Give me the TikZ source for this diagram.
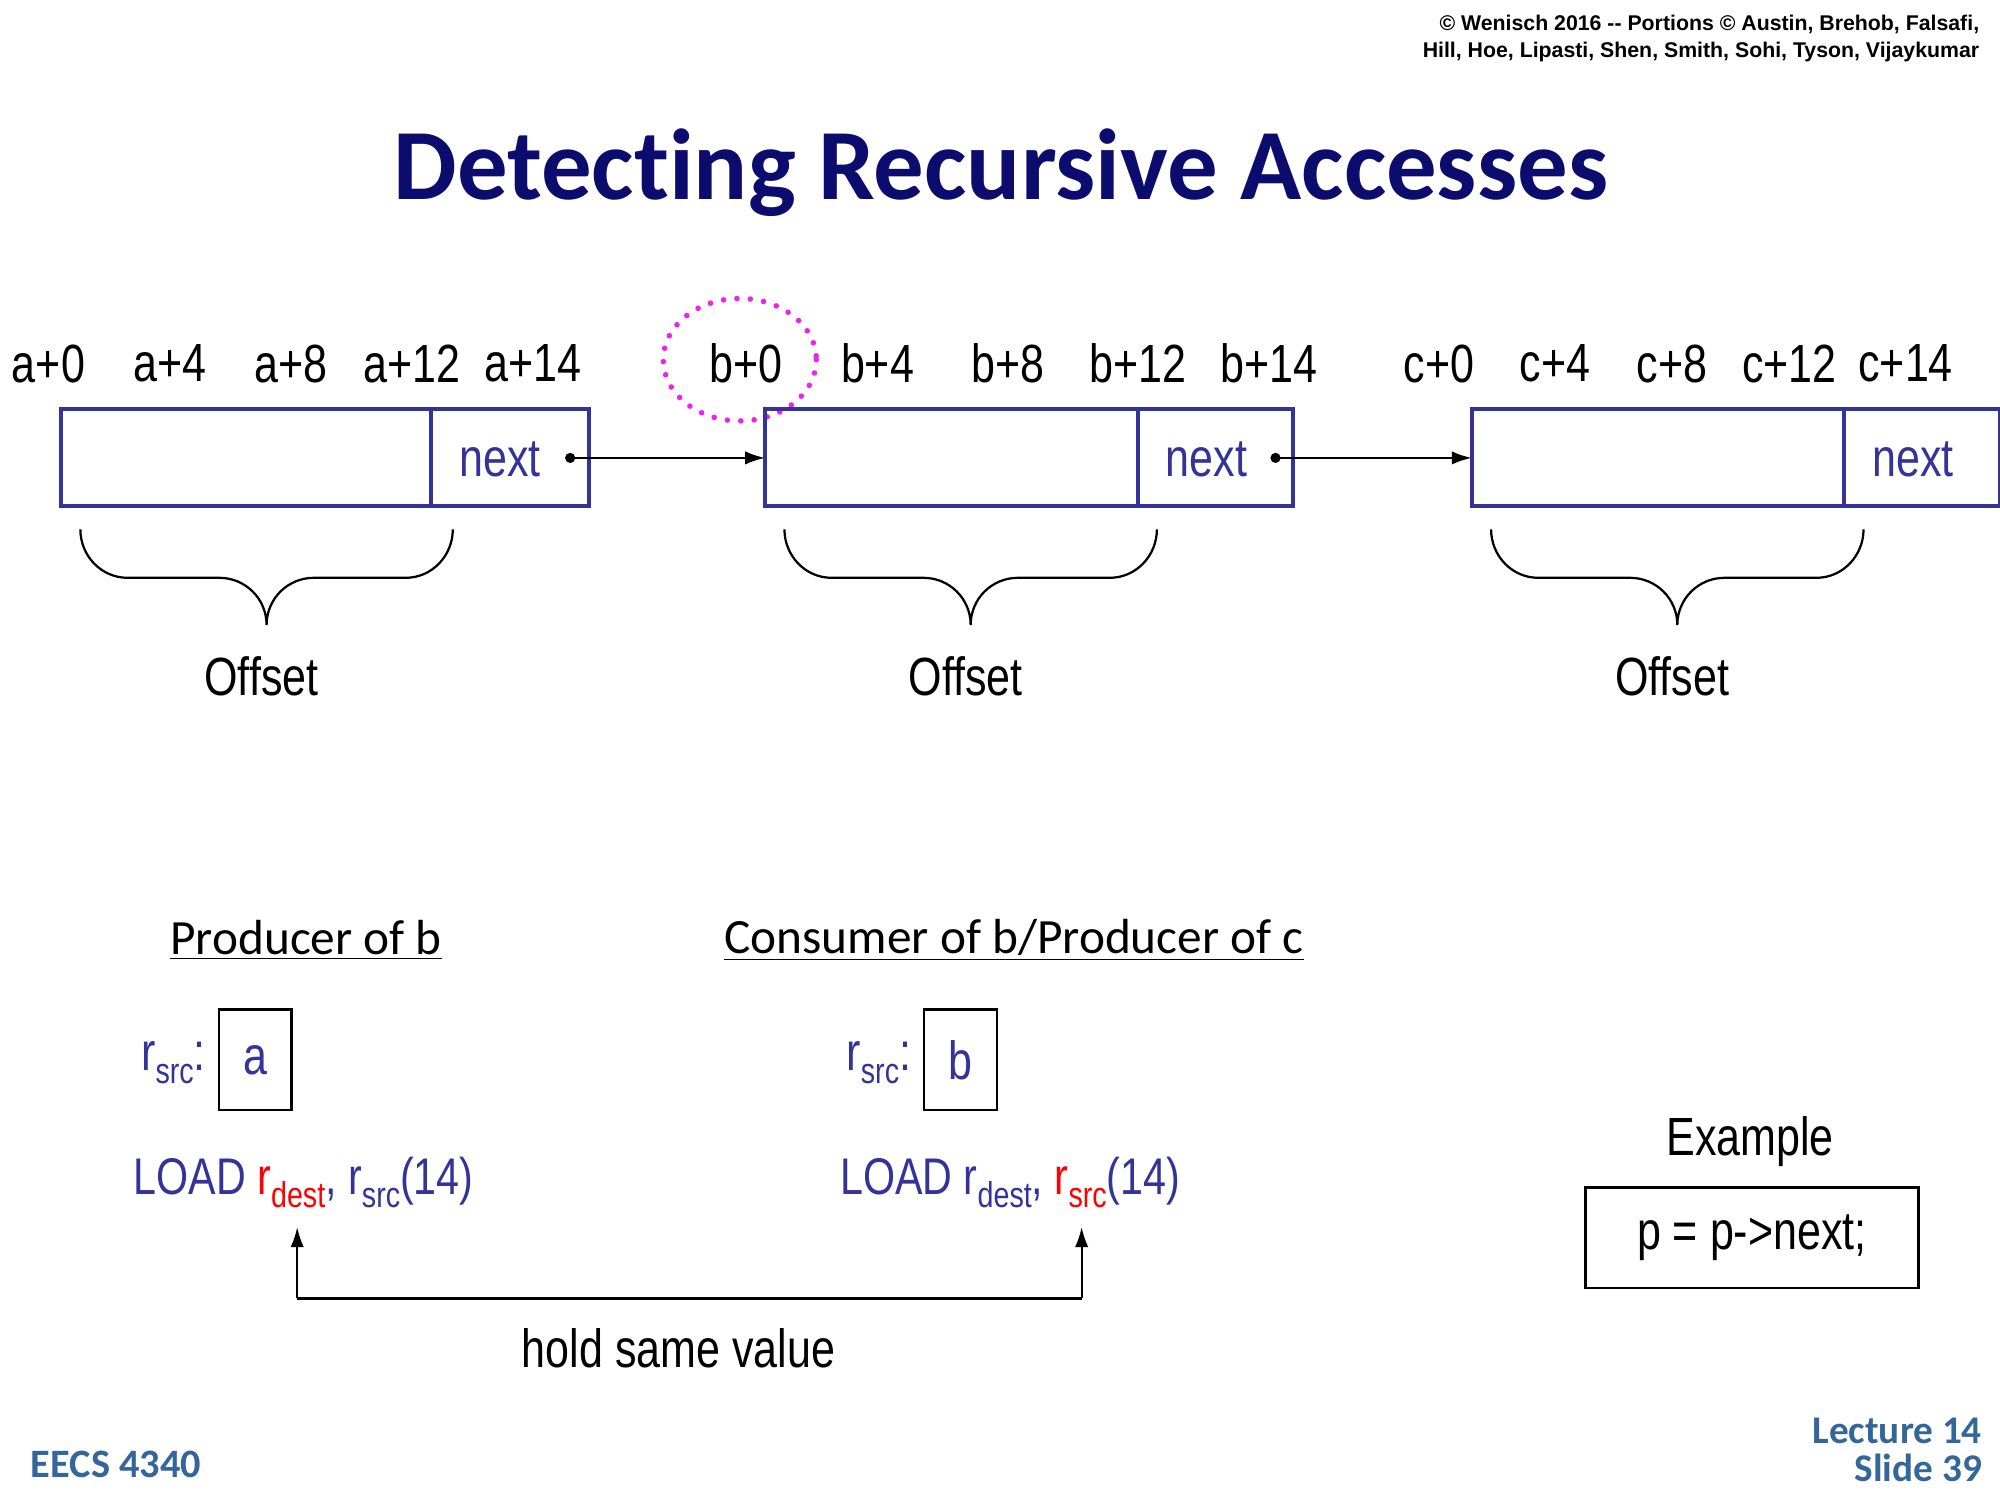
\documentclass[tikz,border=0pt]{standalone}
\usepackage{fontspec}
\usetikzlibrary{arrows.meta}
\setmainfont{Carlito}[Ligatures=NoCommon]
\newfontfamily\narrow[FakeStretch=0.8]{Liberation Sans}
\newfontfamily\arial{Liberation Sans}
\definecolor{navy}{HTML}{0C0C6E}
\definecolor{bblue}{HTML}{333399}
\definecolor{steel}{HTML}{336699}
\definecolor{mag}{HTML}{EE22EE}
\newcommand{\lowsub}[1]{\raisebox{-0.45ex}{\fontsize{16}{18}\selectfont #1}}
\begin{document}
\begin{tikzpicture}[x=0.02cm,y=-0.02cm,
  lab/.style={font=\narrow\fontsize{24}{28}\selectfont},
  cell/.style={draw=bblue,line width=1.8pt},
  bk/.style={line width=1pt},
  arr/.style={line width=1.2pt,-{Latex[length=9pt,width=6pt]}}]
\useasboundingbox (0,0) rectangle (1568,1176);
\node[anchor=east,align=right,font=\arial\bfseries\fontsize{9.5}{12}\selectfont,inner sep=0] (cp) at (1552,30) {© Wenisch 2016 -- Portions © Austin, Brehob, Falsafi,\\Hill, Hoe, Lipasti, Shen, Smith, Sohi, Tyson, Vijaykumar};
\node[font=\bfseries\fontsize{45}{50}\selectfont,text=navy] (title) at (785,135) {Detecting Recursive Accesses};
% labels
\foreach \t/\x in {a+0/38,a+4/133,a+8/228,a+12/323,a+14/418,b+0/585,b+4/688,b+8/790,b+12/892,b+14/995,c+0/1128,c+4/1219,c+8/1311,c+12/1403,c+14/1494}
  \node[lab] (l\t) at (\x,285) {\t};
\draw[mag,line width=2.5pt,dash pattern=on 0pt off 6pt,line cap=round] (580,282) ellipse [x radius=60, y radius=48];
% boxes
\foreach \n/\x/\d in {A/48/338,B/600/892,C/1154/1446}{
  \draw[cell] (\x,321) rectangle (\x+414,397);
  \draw[cell] (\d,321) -- (\d,397);
  \node[lab,text=bblue] (next\n) at (\d+54,360) {next};
  \coordinate (in\n) at (\x,359);
  \node[lab] (off\n) at (\x+157,530) {Offset};
  \draw[bk] (\x+15,415) to[out=-90,in=180] (\x+52,453) -- (\x+124,453) to[out=0,in=90] (\x+161,490)
            to[out=90,in=180] (\x+198,453) -- (\x+270,453) to[out=0,in=-90] (\x+307,415);
}
\coordinate (dA) at (447,359); \coordinate (dB) at (1000,359);
\fill (dA) circle (4); \fill (dB) circle (4);
\draw[arr] (dA) -- (inB); \draw[arr] (dB) -- (inC);
% bottom
\node[font=\fontsize{22}{26}\selectfont] (prod) at (240,737) {\underline{Producer of b}};
\node[font=\fontsize{22}{26}\selectfont] (cons) at (795,737) {\underline{Consumer of b/Producer of c}};
\node[lab,text=bblue] (rs1) at (136,833) {r\lowsub{src}:};
\node[draw,bk,lab,text=bblue,minimum width=57*0.02cm,minimum height=79*0.02cm] (ba) at (200,831) {a};
\node[lab,text=bblue] (rs2) at (689,833) {r\lowsub{src}:};
\node[draw,bk,lab,text=bblue,minimum width=57*0.02cm,minimum height=79*0.02cm] (bb) at (753,831) {b};
\node[lab,text=bblue,font=\narrow\fontsize{23}{28}\selectfont] (ld1) at (238,927) {LOAD \textcolor{red}{r\lowsub{dest}}, r\lowsub{src}(14)};
\node[lab,text=bblue,font=\narrow\fontsize{23}{28}\selectfont] (ld2) at (792,927) {LOAD r\lowsub{dest}, \textcolor{red}{r\lowsub{src}}(14)};
\coordinate (u1) at (233,962); \coordinate (u2) at (848,962);
\draw[arr,line width=1pt] (233,1018) -- (u1);
\draw[arr,line width=1pt] (848,1018) -- (u2);
\draw[bk] (233,1018) -- (848,1018);
\node[lab] (hold) at (532,1057) {hold same value};
\node[lab] (ex) at (1372,895) {Example};
\node[draw,bk,lab,minimum width=261*0.02cm,minimum height=79*0.02cm] (code) at (1373.5,970.5) {p = p->next;};
\node[anchor=west,font=\bfseries\fontsize{18}{20}\selectfont,text=steel] (eecs) at (18,1148) {EECS 4340};
\node[anchor=east,align=right,font=\bfseries\fontsize{17.5}{17}\selectfont,text=steel] (lec) at (1560,1137) {Lecture 14\\Slide 39};
\end{tikzpicture}
\end{document}
